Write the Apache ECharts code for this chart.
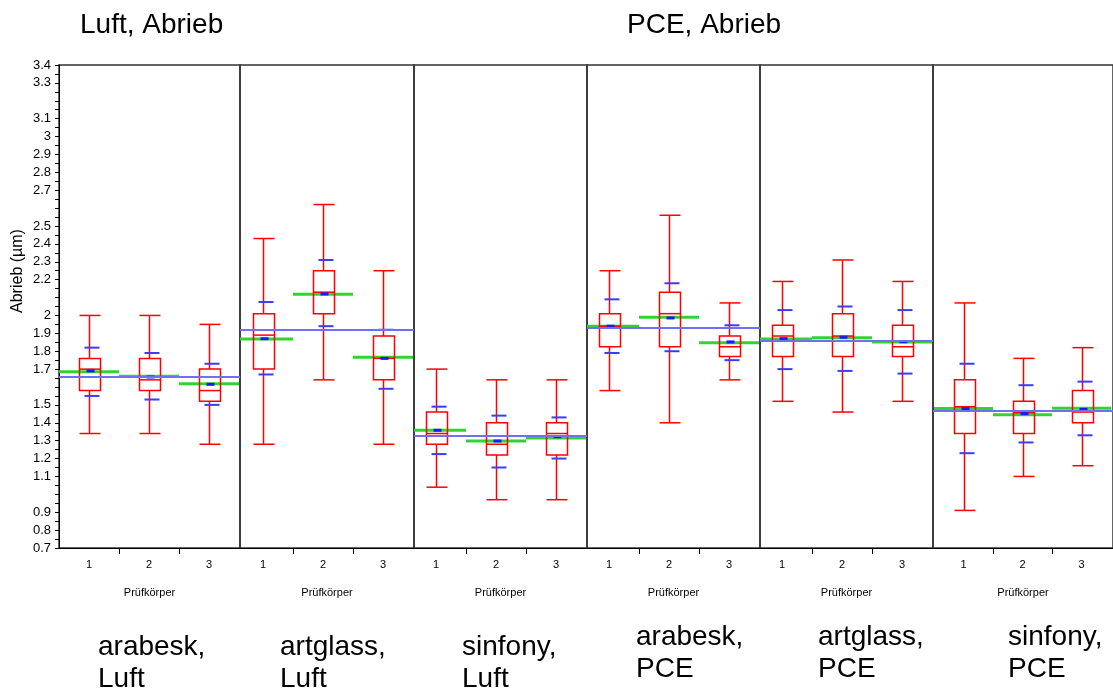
<!DOCTYPE html>
<html>
<head>
<meta charset="utf-8">
<title>Abrieb</title>
<script src="https://cdn.jsdelivr.net/npm/echarts@6/dist/echarts.min.js"></script>
<style>
  html, body { margin: 0; padding: 0; background: #fff; }
  #main { width: 1113px; height: 690px; }
</style>
</head>
<body>
<div id="main"></div>
<script>
// Daten: je Panel drei Prüfkörper
const panelNames = ['arabesk,\nLuft', 'artglass,\nLuft', 'sinfony,\nLuft', 'arabesk,\nPCE', 'artglass,\nPCE', 'sinfony,\nPCE'];
const specimens = [1, 2, 3];
const whiskerHigh = [[2.00, 2.00, 1.95], [2.43, 2.62, 2.25], [1.70, 1.64, 1.64], [2.25, 2.56, 2.07], [2.19, 2.31, 2.19], [2.07, 1.76, 1.82]];
const q3 = [[1.76, 1.76, 1.70], [2.01, 2.25, 1.885], [1.46, 1.40, 1.40], [2.01, 2.13, 1.885], [1.945, 2.01, 1.945], [1.64, 1.52, 1.58]];
const median = [[1.70, 1.64, 1.58], [1.89, 2.13, 1.76], [1.34, 1.28, 1.34], [1.94, 2.01, 1.825], [1.885, 1.885, 1.825], [1.49, 1.456, 1.46]];
const q1 = [[1.58, 1.58, 1.52], [1.70, 2.01, 1.64], [1.28, 1.22, 1.22], [1.825, 1.825, 1.77], [1.77, 1.77, 1.77], [1.34, 1.34, 1.40]];
const whiskerLow = [[1.34, 1.34, 1.28], [1.28, 1.64, 1.28], [1.04, 0.97, 0.97], [1.58, 1.40, 1.64], [1.52, 1.46, 1.52], [0.91, 1.10, 1.16]];
const ciHigh = [[1.82, 1.79, 1.73], [2.075, 2.31, 1.92], [1.49, 1.44, 1.43], [2.09, 2.18, 1.945], [2.03, 2.05, 2.03], [1.73, 1.61, 1.63]];
const ciLow = [[1.55, 1.53, 1.50], [1.67, 1.94, 1.59], [1.225, 1.15, 1.20], [1.79, 1.80, 1.75], [1.70, 1.69, 1.675], [1.23, 1.29, 1.33]];
const means = [[1.69, 1.656, 1.615], [1.87, 2.12, 1.76], [1.358, 1.298, 1.322], [1.94, 1.986, 1.852], [1.87, 1.878, 1.853], [1.479, 1.451, 1.475]];
const greenLevel = [[1.685, 1.66, 1.618], [1.868, 2.118, 1.766], [1.358, 1.298, 1.315], [1.94, 1.99, 1.848], [1.868, 1.876, 1.851], [1.48, 1.445, 1.481]];
const groupMean = [1.656, 1.92, 1.326, 1.926, 1.864, 1.467];
const yTickLabels = [0.7, 0.8, 0.9, 1.1, 1.2, 1.3, 1.4, 1.5, 1.7, 1.8, 1.9, 2, 2.2, 2.3, 2.4, 2.5, 2.7, 2.8, 2.9, 3, 3.1, 3.3, 3.4];

// Layout der Panels (Pixel) und x-Bereiche
const panelLeft = [59, 240, 414, 587, 760, 933];
const panelWidth = [181, 174, 173, 173, 173, 183];
const xMin = [0.5, 0.617, 0.633, 0.633, 0.633, 0.483];

const font = '"Liberation Sans", Arial, sans-serif';
const chart = echarts.init(document.getElementById('main'));

function renderBox(params, api) {
    const cs = params.coordSys;
    const x = api.value(0);
    const py = function (dim) { return api.coord([x, api.value(dim)])[1]; };
    const cx = Math.round(api.coord([x, 1])[0]) + 0.5;
    let xl = api.coord([x - 0.5, 1])[0];
    let xr = api.coord([x + 0.5, 1])[0];
    xl = Math.max(xl, cs.x);
    xr = Math.min(xr, cs.x + cs.width);
    const yLow = py(1), yQ1 = py(2), yMed = py(3), yQ3 = py(4), yHigh = py(5);
    const yCiL = py(6), yCiH = py(7), yMean = py(8), yGreen = py(9);
    const red = { stroke: '#ff0000', lineWidth: 1.5, fill: null };
    const blue = { stroke: '#3c3cf5', lineWidth: 2 };
    return {
        type: 'group',
        children: [
            { type: 'line', shape: { x1: xl, y1: yGreen, x2: xr, y2: yGreen }, style: { stroke: '#2fd42f', lineWidth: 3 } },
            { type: 'line', shape: { x1: cx, y1: yHigh, x2: cx, y2: yQ3 }, style: red },
            { type: 'line', shape: { x1: cx, y1: yQ1, x2: cx, y2: yLow }, style: red },
            { type: 'line', shape: { x1: cx - 10, y1: yHigh, x2: cx + 11, y2: yHigh }, style: red },
            { type: 'line', shape: { x1: cx - 10, y1: yLow, x2: cx + 11, y2: yLow }, style: red },
            { type: 'rect', shape: { x: cx - 10, y: yQ3, width: 21, height: yQ1 - yQ3 }, style: red },
            { type: 'line', shape: { x1: cx - 10, y1: yMed, x2: cx + 11, y2: yMed }, style: red },
            { type: 'line', shape: { x1: cx - 5, y1: yCiH, x2: cx + 10, y2: yCiH }, style: blue },
            { type: 'line', shape: { x1: cx - 5, y1: yCiL, x2: cx + 10, y2: yCiL }, style: blue },
            { type: 'rect', shape: { x: cx - 3, y: yMean - 1.5, width: 8, height: 3 }, style: { fill: '#1a1aff' } }
        ]
    };
}

const grids = [], xAxes = [], yAxes = [], series = [];
panelNames.forEach(function (name, i) {
    grids.push({
        left: panelLeft[i], top: 65, width: panelWidth[i], height: 483,
        show: true, borderColor: '#333', borderWidth: 1.5, backgroundColor: 'transparent'
    });
    xAxes.push({
        type: 'value', gridIndex: i,
        min: xMin[i], max: xMin[i] + panelWidth[i] / 60,
        name: 'Prüfkörper', nameLocation: 'middle', nameGap: 39,
        nameTextStyle: { fontSize: 11, color: '#000', fontFamily: font },
        axisLine: { show: true, lineStyle: { color: '#000', width: 1 } },
        axisTick: { show: true, customValues: [1.5, 2.5], length: 6, lineStyle: { color: '#000' } },
        axisLabel: { customValues: specimens, fontSize: 11, color: '#000', margin: 11, fontFamily: font },
        splitLine: { show: false }
    });
    yAxes.push({
        type: 'value', gridIndex: i, show: i === 0,
        min: 0.7, max: 3.4, interval: 0.1,
        axisLine: { show: true, lineStyle: { color: '#000', width: 1 } },
        axisTick: { show: true, length: 4, lineStyle: { color: '#000' } },
        minorTick: { show: true, splitNumber: 2, length: 4, lineStyle: { color: '#000' } },
        axisLabel: {
            fontSize: 13, color: '#000', margin: 8, fontFamily: font,
            formatter: function (v) {
                const r = Math.round(v * 10) / 10;
                return yTickLabels.indexOf(r) >= 0 ? String(r) : '';
            }
        },
        splitLine: { show: false }
    });
    series.push({
        type: 'custom', name: name, xAxisIndex: i, yAxisIndex: i,
        renderItem: renderBox,
        encode: { x: 0, y: [1, 5] },
        data: specimens.map(function (s, j) {
            return [s, whiskerLow[i][j], q1[i][j], median[i][j], q3[i][j], whiskerHigh[i][j],
                ciLow[i][j], ciHigh[i][j], means[i][j], greenLevel[i][j]];
        }),
        markLine: {
            silent: true, symbol: 'none', label: { show: false },
            lineStyle: { color: '#7070ee', width: 2, type: 'solid' },
            data: [{ yAxis: groupMean[i] }]
        },
        z: 3
    });
});

const labelLeft = [98, 280, 462, 636, 818, 1008];
const labelTop = [631, 631, 631, 621, 621, 621];
const titles = [
    { text: 'Luft, Abrieb', left: 80, top: 11, padding: 0, textStyle: { fontSize: 28, fontWeight: 'normal', color: '#000', fontFamily: font } },
    { text: 'PCE, Abrieb', left: 627, top: 11, padding: 0, textStyle: { fontSize: 28, fontWeight: 'normal', color: '#000', fontFamily: font } }
];
panelNames.forEach(function (name, i) {
    titles.push({
        text: name, left: labelLeft[i], top: labelTop[i], padding: 0,
        textStyle: { fontSize: 28, lineHeight: 32, fontWeight: 'normal', color: '#000', fontFamily: font }
    });
});

const option = {
    backgroundColor: '#fff',
    animation: false,
    title: titles,
    grid: grids,
    xAxis: xAxes,
    yAxis: yAxes,
    series: series,
    graphic: [{
        type: 'text', x: 18, y: 271, rotation: Math.PI / 2,
        style: {
            text: 'Abrieb (µm)', fill: '#000', font: '16px ' + font,
            textAlign: 'center', textVerticalAlign: 'middle', align: 'center', verticalAlign: 'middle'
        }
    }]
};

chart.setOption(option);
</script>
</body>
</html>
